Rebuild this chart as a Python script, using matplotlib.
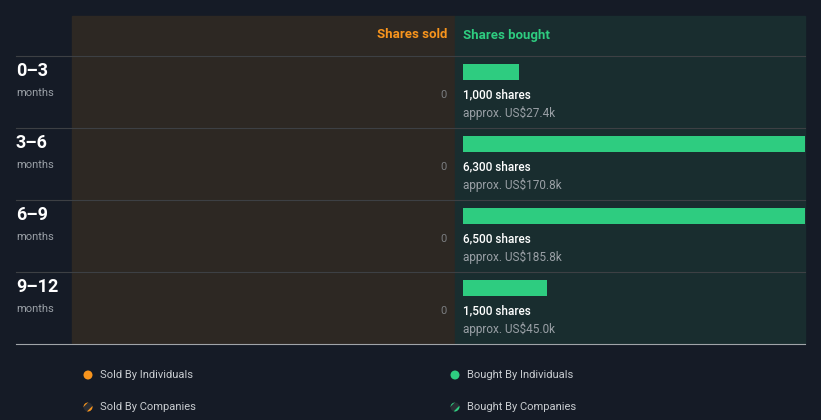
import matplotlib.pyplot as plt
from matplotlib.patches import Rectangle, Circle
from matplotlib.lines import Line2D
from matplotlib.transforms import IdentityTransform

periods = ["0–3", "3–6", "6–9", "9–12"]
sold = [0, 0, 0, 0]
bought = [1000, 6300, 6500, 1500]
bought_usd = ["US$27.4k", "US$170.8k", "US$185.8k", "US$45.0k"]
legend_left = ["Sold By Individuals", "Sold By Companies"]
legend_right = ["Bought By Individuals", "Bought By Companies"]

W, H = 821, 420
BG = "#151b26"
SOLD_BG = "#2d2823"
BOUGHT_BG = "#192d2f"
GREEN = "#2ecc80"
ORANGE = "#f7941d"

plt.rcParams["font.family"] = ["Roboto", "DejaVu Sans"]
plt.rcParams["hatch.linewidth"] = 1.6

fig = plt.figure(figsize=(W / 100, H / 100), dpi=100, facecolor=BG)


def fx(x):
    return x / W


def fy(y):
    return 1 - y / H


def txt(x, y, s, **kw):
    fig.text(fx(x), fy(y), s, va="center", **kw)


# panels
fig.add_artist(Rectangle((fx(72), fy(343)), fx(455 - 72), (343 - 16) / H,
                         transform=fig.transFigure, color=SOLD_BG, zorder=0))
fig.add_artist(Rectangle((fx(455), fy(343)), fx(805 - 455), (343 - 16) / H,
                         transform=fig.transFigure, color=BOUGHT_BG, zorder=0))

# headers
txt(447, 35, "Shares sold", ha="right", color=ORANGE, fontsize=9.5, fontweight="bold")
txt(463, 35, "Shares bought", ha="left", color=GREEN, fontsize=9.5, fontweight="bold")

# row separators
row_h = 72
top = 56
for i in range(len(periods)):
    y = top + i * row_h
    fig.add_artist(Line2D([fx(16), fx(805)], [fy(y), fy(y)], transform=fig.transFigure,
                          color="#3d4044", lw=0.8))
fig.add_artist(Line2D([fx(16), fx(805)], [fy(343.5), fy(343.5)], transform=fig.transFigure,
                      color="#a0a4a8", lw=0.8))

# bars for shares bought
ax = fig.add_axes([fx(463), fy(344), fx(805 - 463), 288 / H])
ax.set_xlim(0, 6100)
ax.set_ylim(len(periods), 0)
ax.axis("off")
ax.patch.set_alpha(0)
ys = [i + 16 / 72 for i in range(len(periods))]
ax.barh(ys, bought, height=16 / 72, color=GREEN)

for i, p in enumerate(periods):
    t = top + i * row_h
    txt(16, t + 15, p, ha="left", color="white", fontsize=13, fontweight="bold")
    txt(16, t + 37, "months", ha="left", color="#9aa0a6", fontsize=8)
    txt(447, t + 39, f"{sold[i]:,}", ha="right", color="#7a7d80", fontsize=8)
    txt(463, t + 39, f"{bought[i]:,} shares", ha="left", color="white", fontsize=8.5,
        fontweight="medium")
    txt(463, t + 57, f"approx. {bought_usd[i]}", ha="left", color="#9aa0a6", fontsize=8.5)

# legend
for x0, labels, col in [(88, legend_left, ORANGE), (455, legend_right, GREEN)]:
    fig.add_artist(Circle((x0, H - 375), 4.5, transform=IdentityTransform(),
                          facecolor=col, edgecolor="none"))
    fig.add_artist(Circle((x0, H - 407), 4.5, transform=IdentityTransform(),
                          facecolor="#2a2e35", edgecolor=col, hatch="///", lw=0))
    txt(x0 + 12, 375.5, labels[0], ha="left", color="#c8ccd0", fontsize=8)
    txt(x0 + 12, 407.5, labels[1], ha="left", color="#c8ccd0", fontsize=8)

fig.savefig("out.png", dpi=100, facecolor=BG)
